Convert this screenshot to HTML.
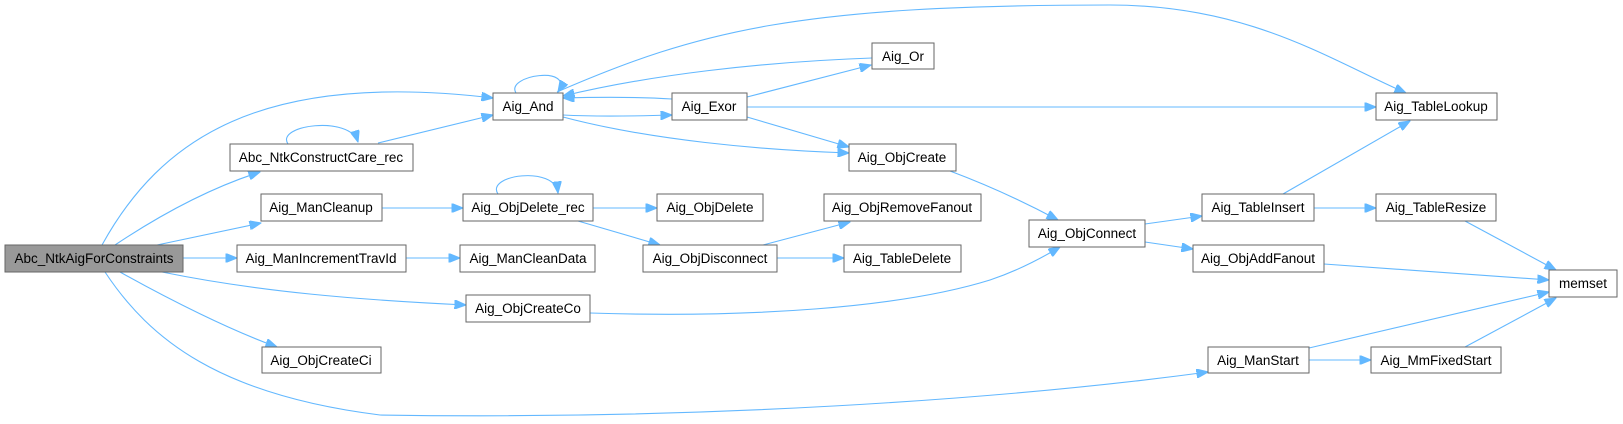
<!DOCTYPE html>
<html><head><meta charset="utf-8"><style>
html,body{margin:0;padding:0;background:#fff;}
svg{display:block;}
text{font-family:"Liberation Sans",Arial,sans-serif;font-size:13.5px;fill:#000;text-anchor:middle;}
.b{fill:#fff;stroke:#666;stroke-width:1;}
.e{fill:none;stroke:#63b8ff;stroke-width:1.1;}
</style></head><body>
<svg width="1623" height="424" viewBox="0 0 1623 424" xmlns="http://www.w3.org/2000/svg">
<defs><marker id="a" viewBox="0 0 10 8" refX="10" refY="4" markerWidth="12" markerHeight="9" markerUnits="userSpaceOnUse" orient="auto"><path d="M0,0 L10,4 L0,8 z" fill="#63b8ff" stroke="#63b8ff"/></marker></defs>
<g class="e" marker-end="url(#a)">
<path d="M102,245 C160,140 260,70 493,98"/>
<path d="M115,245 C160,215 210,188 260,172"/>
<path d="M157,245 L261,223"/>
<path d="M183,258 L237,258"/>
<path d="M162,272 C260,292 360,300 466,305"/>
<path d="M120,272 C170,300 230,330 277,347"/>
<path d="M105,272 C150,340 220,395 380,415 C700,420 1000,400 1208,372"/>
<path d="M288,144 C275,125 350,115 358,142"/>
<path d="M516,93 C505,75 575,65 558,92"/>
<path d="M498,194 C485,175 555,165 558,193"/>
<path d="M378,143 L493,115"/>
<path d="M563,115 C600,117 640,116 672,115"/>
<path d="M563,117 C650,140 760,150 849,153"/>
<path d="M557,92 C700,30 800,5 1110,5 C1250,5 1330,60 1406,93"/>
<path d="M672,99 C640,97 600,97 563,98"/>
<path d="M872,58 C760,62 650,75 563,96"/>
<path d="M747,97 L871,65"/>
<path d="M747,107 L1376,107"/>
<path d="M747,117 L849,147"/>
<path d="M950,171 C990,186 1030,205 1058,220"/>
<path d="M1145,224 L1202,216"/>
<path d="M1145,242 L1193,249"/>
<path d="M1283,194 L1410,121"/>
<path d="M1314,208 L1376,208"/>
<path d="M1465,221 L1556,270"/>
<path d="M1324,264 L1549,280"/>
<path d="M1309,348 L1549,292"/>
<path d="M1309,360 L1371,360"/>
<path d="M1465,347 L1556,298"/>
<path d="M590,313 C750,318 900,308 990,280 C1020,270 1045,256 1060,247"/>
<path d="M382,208 L463,208"/>
<path d="M593,208 L657,208"/>
<path d="M578,221 L660,245"/>
<path d="M763,245 L850,222"/>
<path d="M777,258 L844,258"/>
<path d="M406,258 L460,258"/>
</g>
<rect x="5" y="245" width="178" height="27" fill="#999" stroke="#666"/><text x="94" y="263">Abc_NtkAigForConstraints</text>
<rect class="b" x="230" y="144" width="183" height="27"/><text x="321" y="162">Abc_NtkConstructCare_rec</text>
<rect class="b" x="261" y="194" width="121" height="27"/><text x="321" y="212">Aig_ManCleanup</text>
<rect class="b" x="237" y="245" width="169" height="27"/><text x="321" y="263">Aig_ManIncrementTravId</text>
<rect class="b" x="262" y="347" width="119" height="26"/><text x="321" y="365">Aig_ObjCreateCi</text>
<rect class="b" x="493" y="93" width="70" height="27"/><text x="528" y="111">Aig_And</text>
<rect class="b" x="672" y="93" width="75" height="27"/><text x="709" y="111">Aig_Exor</text>
<rect class="b" x="463" y="194" width="130" height="27"/><text x="528" y="212">Aig_ObjDelete_rec</text>
<rect class="b" x="657" y="194" width="106" height="27"/><text x="710" y="212">Aig_ObjDelete</text>
<rect class="b" x="460" y="245" width="135" height="27"/><text x="528" y="263">Aig_ManCleanData</text>
<rect class="b" x="643" y="245" width="134" height="27"/><text x="710" y="263">Aig_ObjDisconnect</text>
<rect class="b" x="466" y="295" width="124" height="27"/><text x="528" y="313">Aig_ObjCreateCo</text>
<rect class="b" x="872" y="43" width="62" height="26"/><text x="903" y="61">Aig_Or</text>
<rect class="b" x="849" y="144" width="107" height="27"/><text x="902" y="162">Aig_ObjCreate</text>
<rect class="b" x="824" y="194" width="157" height="27"/><text x="902" y="212">Aig_ObjRemoveFanout</text>
<rect class="b" x="844" y="245" width="117" height="27"/><text x="902" y="263">Aig_TableDelete</text>
<rect class="b" x="1029" y="220" width="116" height="27"/><text x="1087" y="238">Aig_ObjConnect</text>
<rect class="b" x="1202" y="194" width="112" height="27"/><text x="1258" y="212">Aig_TableInsert</text>
<rect class="b" x="1193" y="245" width="131" height="27"/><text x="1258" y="263">Aig_ObjAddFanout</text>
<rect class="b" x="1208" y="347" width="101" height="26"/><text x="1258" y="365">Aig_ManStart</text>
<rect class="b" x="1376" y="93" width="121" height="27"/><text x="1436" y="111">Aig_TableLookup</text>
<rect class="b" x="1376" y="194" width="120" height="27"/><text x="1436" y="212">Aig_TableResize</text>
<rect class="b" x="1371" y="347" width="130" height="26"/><text x="1436" y="365">Aig_MmFixedStart</text>
<rect class="b" x="1549" y="270" width="68" height="27"/><text x="1583" y="288">memset</text>
</svg>
</body></html>
